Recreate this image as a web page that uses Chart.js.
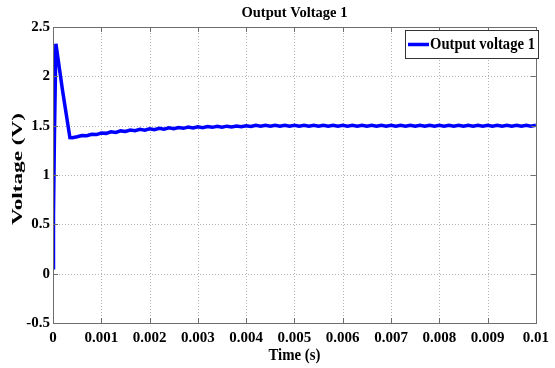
<!DOCTYPE html>
<html>
<head>
<meta charset="utf-8">
<script src="https://cdn.jsdelivr.net/npm/chart.js@4.4.1/dist/chart.umd.min.js"></script>
<style>
html,body{margin:0;padding:0;background:#fff;}
#wrap{width:555px;height:368px;position:relative;}
</style>
</head>
<body>
<div id="wrap"><canvas id="c"></canvas></div>
<script>
// ---- data ----
const chartTitle = 'Output Voltage 1';
const xTitle = 'Time (s)';
const yTitle = 'Voltage (V)';
const seriesLabel = 'Output voltage 1';

const timeValues = [
  0, 0.00001, 0.00003, 0.00006, 0.0002, 0.00035, 0.0004,
  0.0005, 0.0006, 0.0007, 0.0008, 0.0009, 0.0010, 0.0011, 0.0012, 0.0013, 0.0014,
  0.0015, 0.0016, 0.0017, 0.0018, 0.0019, 0.0020, 0.0021, 0.0022, 0.0023, 0.0024,
  0.0025, 0.0026, 0.0027, 0.0028, 0.0029, 0.0030, 0.0031, 0.0032, 0.0033, 0.0034,
  0.0035, 0.0036, 0.0037, 0.0038, 0.0039, 0.0040, 0.0041, 0.0042, 0.0043, 0.0044,
  0.0045, 0.0046, 0.0047, 0.0048, 0.0049, 0.0050, 0.0051, 0.0052, 0.0053, 0.0054,
  0.0055, 0.0056, 0.0057, 0.0058, 0.0059, 0.0060, 0.0061, 0.0062, 0.0063, 0.0064,
  0.0065, 0.0066, 0.0067, 0.0068, 0.0069, 0.0070, 0.0071, 0.0072, 0.0073, 0.0074,
  0.0075, 0.0076, 0.0077, 0.0078, 0.0079, 0.0080, 0.0081, 0.0082, 0.0083, 0.0084,
  0.0085, 0.0086, 0.0087, 0.0088, 0.0089, 0.0090, 0.0091, 0.0092, 0.0093, 0.0094,
  0.0095, 0.0096, 0.0097, 0.0098, 0.0099, 0.0100
];
const voltageValues = [
  0.06, 0.6, 1.4, 2.33, 1.85, 1.38, 1.378,
  1.388, 1.400, 1.398, 1.412, 1.410, 1.426, 1.422, 1.437, 1.432, 1.447,
  1.441, 1.456, 1.449, 1.463, 1.455, 1.469, 1.460, 1.474, 1.465, 1.478,
  1.469, 1.482, 1.473, 1.485, 1.477, 1.488, 1.480, 1.491, 1.483, 1.493,
  1.485, 1.495, 1.487, 1.497, 1.489, 1.499, 1.492, 1.503, 1.494, 1.504,
  1.495, 1.505, 1.495, 1.505, 1.495, 1.505, 1.495, 1.505, 1.495, 1.505,
  1.495, 1.505, 1.495, 1.505, 1.495, 1.505, 1.495, 1.505, 1.495, 1.505,
  1.495, 1.505, 1.495, 1.505, 1.495, 1.505, 1.495, 1.505, 1.495, 1.505,
  1.495, 1.505, 1.495, 1.505, 1.495, 1.505, 1.495, 1.505, 1.495, 1.505,
  1.495, 1.505, 1.495, 1.505, 1.495, 1.505, 1.495, 1.505, 1.495, 1.505,
  1.495, 1.505, 1.495, 1.505, 1.495, 1.505
];

const xTickValues = [0, 0.001, 0.002, 0.003, 0.004, 0.005, 0.006, 0.007, 0.008, 0.009, 0.01];
const xTickLabels = ['0', '0.001', '0.002', '0.003', '0.004', '0.005', '0.006', '0.007', '0.008', '0.009', '0.01'];
const yTickValues = [-0.5, 0, 0.5, 1, 1.5, 2, 2.5];
const yTickLabels = ['-0.5', '0', '0.5', '1', '1.5', '2', '2.5'];

// ---- chart ----
const points = timeValues.map((t, i) => ({ x: t, y: voltageValues[i] }));
const FONT = '"Liberation Serif", "Times New Roman", serif';
const BLUE = '#0000ff';

function fitText(ctx, text, x, y, targetW, font, rotate) {
  ctx.save();
  ctx.font = font;
  const w = ctx.measureText(text).width;
  const sx = targetW / w;
  ctx.translate(x, y);
  if (rotate) ctx.rotate(-Math.PI / 2);
  ctx.scale(sx, 1);
  ctx.textAlign = 'center';
  ctx.textBaseline = 'middle';
  ctx.fillStyle = '#000';
  ctx.fillText(text, 0, 0);
  ctx.restore();
}

const decorPlugin = {
  id: 'decor',
  beforeDatasetsDraw(chart) {
    const ctx = chart.ctx;
    const a = chart.chartArea;
    const xs = chart.scales.x, ys = chart.scales.y;
    ctx.save();
    ctx.strokeStyle = '#b4b4b4';
    ctx.lineWidth = 1;
    ctx.setLineDash([1, 2]);
    xTickValues.forEach(v => {
      const px = Math.round(xs.getPixelForValue(v)) + 0.5;
      if (px <= a.left + 1 || px >= a.right - 1) return;
      ctx.beginPath(); ctx.moveTo(px, a.top); ctx.lineTo(px, a.bottom); ctx.stroke();
    });
    yTickValues.forEach(v => {
      const py = Math.round(ys.getPixelForValue(v)) + 0.5;
      if (py <= a.top + 1 || py >= a.bottom - 1) return;
      ctx.beginPath(); ctx.moveTo(a.left, py); ctx.lineTo(a.right, py); ctx.stroke();
    });
    ctx.restore();
  },
  afterDatasetsDraw(chart) {
    const ctx = chart.ctx;
    const a = chart.chartArea;
    const xs = chart.scales.x, ys = chart.scales.y;
    ctx.save();
    ctx.strokeStyle = '#6e6e6e';
    ctx.lineWidth = 1;
    ctx.setLineDash([]);
    ctx.strokeRect(Math.round(a.left) + 0.5, Math.round(a.top) + 0.5,
      Math.round(a.right - a.left), Math.round(a.bottom - a.top));
    const tl = 5;
    xTickValues.forEach(v => {
      const px = Math.round(xs.getPixelForValue(v)) + 0.5;
      ctx.beginPath();
      ctx.moveTo(px, a.bottom); ctx.lineTo(px, a.bottom - tl);
      ctx.moveTo(px, a.top); ctx.lineTo(px, a.top + tl);
      ctx.stroke();
    });
    yTickValues.forEach(v => {
      const py = Math.round(ys.getPixelForValue(v)) + 0.5;
      ctx.beginPath();
      ctx.moveTo(a.left, py); ctx.lineTo(a.left + tl, py);
      ctx.moveTo(a.right, py); ctx.lineTo(a.right - tl, py);
      ctx.stroke();
    });
    const lx = 405, ly = 30, lw = 133, lh = 28;
    ctx.fillStyle = '#fff';
    ctx.fillRect(lx, ly, lw, lh);
    ctx.strokeStyle = '#333';
    ctx.strokeRect(lx + 0.5, ly + 0.5, lw, lh);
    ctx.strokeStyle = BLUE;
    ctx.lineWidth = 3.5;
    ctx.beginPath(); ctx.moveTo(408, ly + 14.5); ctx.lineTo(429, ly + 14.5); ctx.stroke();
    ctx.restore();
    ctx.save();
    ctx.font = 'bold 15px ' + FONT;
    ctx.textAlign = 'left';
    ctx.textBaseline = 'middle';
    ctx.fillStyle = '#000';
    const tw = ctx.measureText(seriesLabel).width;
    ctx.translate(430, ly + 14.5);
    ctx.scale(105 / tw, 1.05);
    ctx.fillText(seriesLabel, 0, 0);
    ctx.restore();
    fitText(ctx, chartTitle, (a.left + a.right) / 2, 13, 106, 'bold 15px ' + FONT, false);
    fitText(ctx, xTitle, (a.left + a.right) / 2, 356, 52, 'bold 16px ' + FONT, false);
    fitText(ctx, yTitle, 18, 169, 112, 'bold 15px ' + FONT, true);
  }
};

new Chart(document.getElementById('c'), {
  type: 'line',
  data: {
    datasets: [{
      label: seriesLabel,
      data: points,
      borderColor: BLUE,
      backgroundColor: BLUE,
      borderWidth: 3.5,
      pointRadius: 0,
      tension: 0,
      fill: false
    }]
  },
  options: {
    responsive: true,
    maintainAspectRatio: false,
    animation: false,
    layout: { padding: { left: 0, right: 12, top: 27, bottom: 0 } },
    plugins: { legend: { display: false }, title: { display: false }, tooltip: { enabled: false } },
    scales: {
      x: {
        type: 'linear',
        min: 0, max: 0.01,
        afterFit: s => { s.height = 45; },
        afterBuildTicks: s => { s.ticks = xTickValues.map(v => ({ value: v })); },
        grid: { display: false, drawTicks: false },
        border: { display: false },
        ticks: {
          autoSkip: false,
          maxRotation: 0,
          padding: 6,
          color: '#000',
          font: { family: FONT, size: 15, weight: 'bold' },
          callback: (v, i) => xTickLabels[i]
        }
      },
      y: {
        type: 'linear',
        min: -0.5, max: 2.5,
        afterFit: s => { s.width = 53; },
        afterBuildTicks: s => { s.ticks = yTickValues.map(v => ({ value: v })); },
        grid: { display: false, drawTicks: false },
        border: { display: false },
        ticks: {
          autoSkip: false,
          padding: 3,
          color: '#000',
          font: { family: FONT, size: 15, weight: 'bold' },
          callback: (v, i) => yTickLabels[i]
        }
      }
    }
  },
  plugins: [decorPlugin]
});
</script>
</body>
</html>
